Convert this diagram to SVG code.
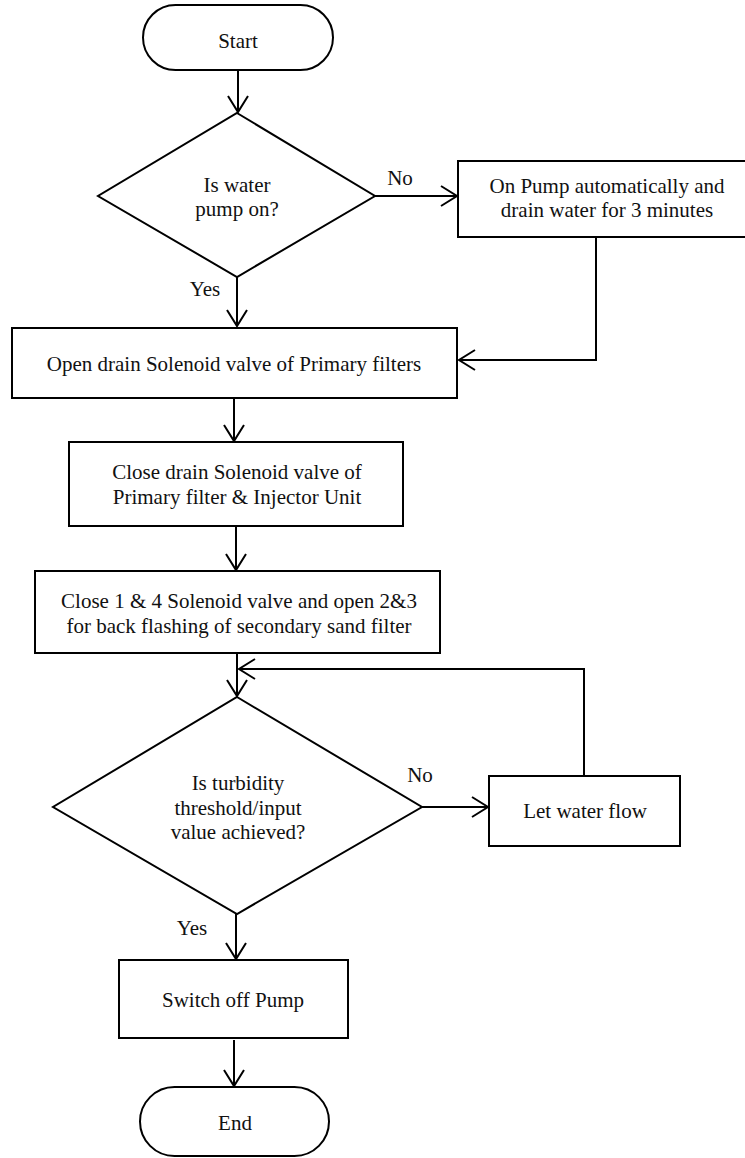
<svg xmlns="http://www.w3.org/2000/svg" width="745" height="1158" viewBox="0 0 745 1158" font-family="Liberation Serif, Times New Roman, serif" font-size="21">
<style>
.s{fill:#fff;stroke:#000;stroke-width:2}
.c{fill:none;stroke:#000;stroke-width:2}
.t{fill:#111;text-anchor:middle}
</style>
<defs>
<marker id="ah" markerUnits="userSpaceOnUse" markerWidth="30" markerHeight="30" viewBox="-20 -15 30 30" refX="0" refY="0" orient="auto" overflow="visible">
<path d="M-16,-10 L0,0 L-16,10" fill="none" stroke="#000" stroke-width="2"/>
</marker>
</defs>
<rect width="745" height="1158" fill="#fff"/>
<g id="connectors">
<path class="c" d="M238,70 V112" marker-end="url(#ah)"/>
<path class="c" d="M375,196 H457" marker-end="url(#ah)"/>
<path class="c" d="M237,277 V326" marker-end="url(#ah)"/>
<path class="c" d="M596,237 V360 H459" marker-end="url(#ah)"/>
<path class="c" d="M234,398 V441" marker-end="url(#ah)"/>
<path class="c" d="M236,526 V570" marker-end="url(#ah)"/>
<path class="c" d="M237,653 V696" marker-end="url(#ah)"/>
<path class="c" d="M584,776 V669 H239" marker-end="url(#ah)"/>
<path class="c" d="M422,807 H488" marker-end="url(#ah)"/>
<path class="c" d="M236,914 V959" marker-end="url(#ah)"/>
<path class="c" d="M234,1040 V1086" marker-end="url(#ah)"/>
<text class="t" x="400" y="185">No</text>
<text class="t" x="205" y="296">Yes</text>
<text class="t" x="420" y="782">No</text>
<text class="t" x="192" y="935">Yes</text>
</g>
<g id="start">
<rect class="s" x="143" y="5" width="190" height="65" rx="32.5"/>
<text class="t" x="238" y="48">Start</text>
</g>
<g id="decision1">
<polygon class="s" points="237,113 375,196 237,277 98,196"/>
<text class="t" x="237" y="192">Is water</text>
<text class="t" x="237" y="216">pump on?</text>
</g>
<g id="onPump">
<rect class="s" x="458" y="161" width="295" height="76"/>
<text class="t" x="607" y="193">On Pump automatically and</text>
<text class="t" x="607" y="217">drain water for 3 minutes</text>
</g>
<g id="openDrain">
<rect class="s" x="12" y="328" width="445" height="70"/>
<text class="t" x="234" y="371">Open drain Solenoid valve of Primary filters</text>
</g>
<g id="closeDrain">
<rect class="s" x="69" y="442" width="334" height="84"/>
<text class="t" x="237" y="479">Close drain Solenoid valve of</text>
<text class="t" x="237" y="504">Primary filter &amp; Injector Unit</text>
</g>
<g id="close14">
<rect class="s" x="35" y="571" width="405" height="82"/>
<text class="t" x="239" y="608">Close 1 &amp; 4 Solenoid valve and open 2&amp;3</text>
<text class="t" x="239" y="633">for back flashing of secondary sand filter</text>
</g>
<g id="decision2">
<polygon class="s" points="237,697 422,807 237,914 53,807"/>
<text class="t" x="238" y="790">Is turbidity</text>
<text class="t" x="238" y="815">threshold/input</text>
<text class="t" x="238" y="839">value achieved?</text>
</g>
<g id="letFlow">
<rect class="s" x="489" y="776" width="191" height="70"/>
<text class="t" x="585" y="818">Let water flow</text>
</g>
<g id="switchOff">
<rect class="s" x="119" y="960" width="229" height="78"/>
<text class="t" x="233" y="1007">Switch off Pump</text>
</g>
<g id="end">
<rect class="s" x="140" y="1087" width="189" height="69" rx="34.5"/>
<text class="t" x="235" y="1130">End</text>
</g>
</svg>
